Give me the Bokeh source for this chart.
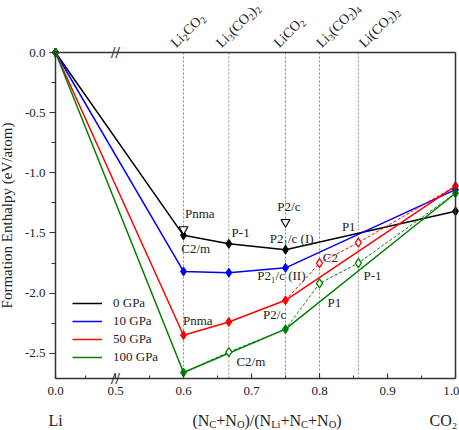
import numpy as np
from math import pi, cos, sin
from bokeh.plotting import figure
from bokeh.models import (Range1d, FixedTicker, Label, Legend, LegendItem, LinearAxis,
                          ColumnDataSource)
from bokeh.core.properties import value
from bokeh.embed import file_html
from bokeh.resources import INLINE

# ---------------- data ----------------
# compound names split into (text, is_subscript) pieces
compounds = [
    [("Li", 0), ("2", 1), ("CO", 0), ("2", 1)],
    [("Li", 0), ("3", 1), ("(CO", 0), ("2", 1), (")", 0), ("2", 1)],
    [("LiCO", 0), ("2", 1)],
    [("Li", 0), ("3", 1), ("(CO", 0), ("2", 1), (")", 0), ("4", 1)],
    [("Li(CO", 0), ("2", 1), (")", 0), ("2", 1)],
]
compound_x = [0.6, 2 / 3, 0.75, 0.8, 6 / 7]

series_names = ["0 GPa", "10 GPa", "50 GPa", "100 GPa"]
x_0 = [0.0, 0.6, 2 / 3, 0.75, 1.0]
h_0 = [0.0, -1.52, -1.59, -1.64, -1.32]
x_10 = [0.0, 0.6, 2 / 3, 0.75, 1.0]
h_10 = [0.0, -1.82, -1.83, -1.79, -1.14]
x_50 = [0.0, 0.6, 2 / 3, 0.75, 1.0]
h_50 = [0.0, -2.35, -2.24, -2.06, -1.11]
x_100 = [0.0, 0.6, 0.75, 1.0]
h_100 = [0.0, -2.66, -2.30, -1.17]

# metastable (dashed) paths
x_50_meta = [0.75, 0.8, 6 / 7, 1.0]
h_50_meta = [-2.06, -1.75, -1.58, -1.11]
x_100_meta = [0.6, 2 / 3, 0.75, 0.8, 6 / 7, 1.0]
h_100_meta = [-2.66, -2.49, -2.30, -1.92, -1.75, -1.17]
open_50_x = [0.8, 6 / 7]
open_50_h = [-1.75, -1.58]
open_100_x = [2 / 3, 0.8, 6 / 7]
open_100_h = [-2.49, -1.92, -1.75]

# 0 GPa alternative structures (open triangles)
tri_x = [0.6, 0.75]
tri_h = [-1.47, -1.41]

# phase annotations
phase_labels = ["Pnma", "C2/m", "P-1", "P2₁/c (I)", "P2/c", "P1", "C2",
                "P2₁/c (II)", "P2/c", "P-1", "P1", "Pnma", "C2/m"]
phase_x = [0.624, 0.618, 0.684, 0.759, 0.755, 0.843, 0.816,
           0.744, 0.734, 0.878, 0.822, 0.621, 0.699]
phase_y = [-1.34, -1.63, -1.50, -1.55, -1.28, -1.45, -1.70,
           -1.85, -2.18, -1.85, -2.08, -2.23, -2.57]

x_ticks = [0.0, 0.5, 0.6, 0.7, 0.8, 0.9, 1.0]
x_tick_labels = ["0.0", "0.5", "0.6", "0.7", "0.8", "0.9", "1.0"]
x_minor = [0.25, 0.55, 0.65, 0.75, 0.85, 0.95]
y_ticks = [0.0, -0.5, -1.0, -1.5, -2.0, -2.5]
y_minor = [-0.25, -0.75, -1.25, -1.75, -2.25]

X_MIN, X_MAX = 0.0, 1.0
Y_MIN, Y_MAX = -2.71, 0.0

# ---------------- broken x axis ----------------
BREAK = 0.5
SQUEEZE = 0.1765


def brk(x):
    x = np.asarray(x, dtype=float)
    return np.where(x >= BREAK, x, BREAK - (BREAK - x) * SQUEEZE)


# layout (pixels) -- the frame covers the whole canvas, the plot box sits inside
W, H = 459, 430
LEFT, RIGHT, TOP, BOTTOM = 55, 4, 52, 52
U0, U1 = float(brk(X_MIN)), float(brk(X_MAX))
PXU = (W - LEFT - RIGHT) / (U1 - U0)
PYU = (H - TOP - BOTTOM) / (Y_MAX - Y_MIN)


def dx(px):
    return px / PXU


def dy(px):
    return px / PYU


FONT = "Liberation Serif"
AX = "#333333"
TXT = "#222222"
colors = ["#000000", "#0000ff", "#ff0000", "#008000"]
ADV = {"L": 611, "i": 278, "C": 667, "O": 722, "(": 333, ")": 333, "N": 722, "+": 564,
       "/": 278, "0": 500, "1": 500, "2": 500, "3": 500, "4": 500}


def adv(s, size):
    return sum(ADV[ch] for ch in s) * size / 1000


p = figure(width=W, height=H, output_backend="svg", toolbar_location=None,
           x_range=Range1d(U0 - dx(LEFT), U1 + dx(RIGHT)),
           y_range=Range1d(Y_MIN - dy(BOTTOM), Y_MAX + dy(TOP)),
           x_axis_location=None, y_axis_location=None,
           min_border=0, min_border_left=0, min_border_right=0,
           min_border_top=0, min_border_bottom=0)
p.title.visible = False
p.xgrid.grid_line_color = None
p.ygrid.grid_line_color = None
p.outline_line_color = None
p.background_fill_color = "white"
p.border_fill_color = "white"

# bottom x axis (broken)
xt = [float(v) for v in brk(x_ticks)]
xax = LinearAxis(fixed_location=Y_MIN, bounds=(U0, U1),
                 ticker=FixedTicker(ticks=xt, minor_ticks=[float(v) for v in brk(x_minor)]),
                 major_label_overrides={v: s for v, s in zip(xt, x_tick_labels)},
                 major_tick_in=5, major_tick_out=0, minor_tick_in=3, minor_tick_out=0,
                 major_label_standoff=8)
# left y axis
yax = LinearAxis(fixed_location=U0, bounds=(Y_MIN, Y_MAX),
                 ticker=FixedTicker(ticks=y_ticks, minor_ticks=y_minor),
                 major_label_overrides={v: f"{v:.1f}" for v in y_ticks},
                 major_tick_out=6, major_tick_in=0, minor_tick_out=4, minor_tick_in=0,
                 major_label_standoff=4,
                 axis_label="Formation Enthalpy (eV/atom)", axis_label_text_font=FONT,
                 axis_label_text_font_size="15px", axis_label_text_font_style="normal",
                 axis_label_text_color=TXT, axis_label_standoff=7)
# top and right frame lines
tax = LinearAxis(fixed_location=Y_MAX, bounds=(U0, U1), ticker=FixedTicker(ticks=[]),
                 major_tick_line_color=None, minor_tick_line_color=None,
                 major_label_text_font_size="0px")
rax = LinearAxis(fixed_location=U1, bounds=(Y_MIN, Y_MAX), ticker=FixedTicker(ticks=[]),
                 major_tick_line_color=None, minor_tick_line_color=None,
                 major_label_text_font_size="0px")
for ax in (xax, yax, tax, rax):
    ax.axis_line_color = AX
    ax.axis_line_width = 1.5
for ax in (xax, yax):
    ax.major_tick_line_color = AX
    ax.minor_tick_line_color = AX
    ax.major_tick_line_width = 1.2
    ax.major_label_text_font = FONT
    ax.major_label_text_font_size = "13px"
    ax.major_label_text_color = TXT
p.add_layout(xax, "below")
p.add_layout(yax, "left")
p.add_layout(tax, "above")
p.add_layout(rax, "right")

# vertical composition lines
cxu = brk(compound_x)
p.segment(x0=cxu, y0=[Y_MIN] * len(cxu), x1=cxu, y1=[Y_MAX] * len(cxu),
          line_color="#8a8a8a", line_width=1, line_dash="2 2")

# rotated compound names with real subscripts (pieces laid along a 45 degree baseline)
ANG = pi / 4
F_NAME, F_NSUB, SUB_DROP = 14, 9.5, 3.5
name_nudge = [-10.5, -10.5, -9.5, -1.0, 3.0]
name_lift = 7.5
nx, ny, nt, nf = [], [], [], []
for cx, pieces, nudge in zip(cxu, compounds, name_nudge):
    t = 0.0
    for s, sub in pieces:
        size = F_NSUB if sub else F_NAME
        off = SUB_DROP if sub else 0.0
        nx.append(float(cx) + dx(nudge + t * cos(ANG) + off * sin(ANG)))
        ny.append(Y_MAX + dy(name_lift + t * sin(ANG) - off * cos(ANG)))
        nt.append(s)
        nf.append(f"{size}px")
        t += adv(s, size)
name_src = ColumnDataSource(dict(x=nx, y=ny, text=nt, fs=nf))
p.text(x="x", y="y", text="text", source=name_src, angle=ANG, text_align="left",
       text_baseline="alphabetic", text_font=value(FONT), text_font_size="fs",
       text_color=TXT)

# series
stable = [(x_0, h_0), (x_10, h_10), (x_50, h_50), (x_100, h_100)]
line_renderers = []
for (xs, hs), c in zip(stable, colors):
    line_renderers.append(p.line(brk(xs), hs, line_color=c, line_width=1.5))

p.line(brk(x_50_meta), h_50_meta, line_color=colors[2], line_width=1, line_dash="3 2")
p.line(brk(x_100_meta), h_100_meta, line_color=colors[3], line_width=1, line_dash="3 2")

for (xs, hs), c in zip(stable, colors):
    p.scatter(brk(xs), hs, marker="diamond", size=9, fill_color=c, line_color=c)

p.scatter(brk(open_50_x), open_50_h, marker="diamond", size=9, fill_color="white",
          line_color=colors[2], line_width=1.3)
p.scatter(brk(open_100_x), open_100_h, marker="diamond", size=9, fill_color="white",
          line_color=colors[3], line_width=1.3)
p.scatter(brk(tri_x), tri_h, marker="inverted_triangle", size=9, fill_color="white",
          line_color="black", line_width=1.2)

for t_, px_, py_ in zip(phase_labels, phase_x, phase_y):
    p.add_layout(Label(x=float(brk(px_)), y=py_, text=t_, text_align="center",
                       text_baseline="middle", text_font=FONT, text_font_size="13px",
                       text_color=TXT))

# axis break marks
for yb in (Y_MAX, Y_MIN):
    p.add_layout(Label(x=BREAK, y=yb, text="//", text_align="center", text_baseline="middle",
                       text_font=FONT, text_font_size="16px", text_font_style="bold",
                       text_color=AX))

# bottom texts: Li, composite label, CO2
base_y = Y_MIN - dy(42)
p.add_layout(Label(x=U0, y=base_y, text="Li", text_align="center", text_baseline="alphabetic",
                   text_font=FONT, text_font_size="16px", text_color=TXT))
p.add_layout(Label(x=U1 - dx(26), y=base_y, text="CO₂", text_align="left",
                   text_baseline="alphabetic", text_font=FONT, text_font_size="16px",
                   text_color=TXT))

pieces = [("(N", 0), ("C", 1), ("+N", 0), ("O", 1), (")/(N", 0),
          ("Li", 1), ("+N", 0), ("C", 1), ("+N", 0), ("O", 1), (")", 0)]
F_MAIN, F_SUB = 16, 10.5
total = sum(adv(s, F_SUB if sub else F_MAIN) for s, sub in pieces)
mid = (U0 + U1) / 2
cursor = 11.5 - total / 2
for s, sub in pieces:
    size = F_SUB if sub else F_MAIN
    p.add_layout(Label(x=mid + dx(cursor), y=base_y - (dy(4) if sub else 0), text=s,
                       text_align="left", text_baseline="alphabetic",
                       text_font=FONT, text_font_size=f"{size}px", text_color=TXT))
    cursor += adv(s, size)

legend = Legend(items=[LegendItem(label=n, renderers=[r]) for n, r in zip(series_names, line_renderers)],
                location=(72, 64), border_line_color=None, background_fill_alpha=0,
                padding=0, margin=0, spacing=0, glyph_width=30, glyph_height=18,
                label_height=18, label_standoff=11, label_text_font=FONT,
                label_text_font_size="13px", label_text_color=TXT)
p.add_layout(legend)

open("out.html", "w").write(file_html(p, INLINE))
